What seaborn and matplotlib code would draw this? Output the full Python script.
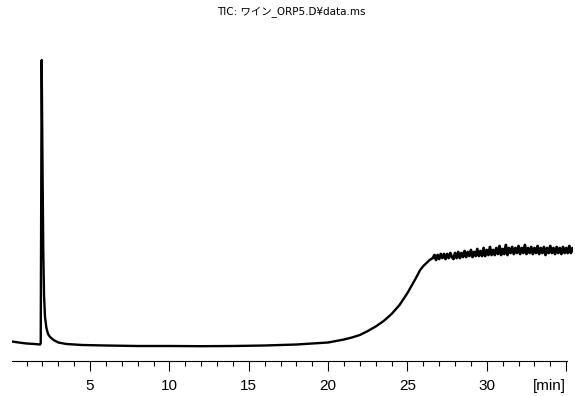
import numpy as np
import matplotlib
matplotlib.use('Agg')
import matplotlib.pyplot as plt
from matplotlib.ticker import MultipleLocator, FixedLocator, FixedFormatter
import seaborn as sns

# ── Data ───────────────────────────────────────────────────────────────────────
# retention time [min] and TIC abundance (arbitrary units)
times_main = [0.08, 0.5, 1.0, 1.5, 1.85, 1.89, 1.95, 2.0, 2.05, 2.1, 2.16, 2.25,
              2.35, 2.48, 2.7, 3.0, 3.5, 4.5, 6.0, 8.0, 10.0, 12.0, 14.0, 16.0,
              18.0, 19.5, 20.0, 20.5, 21.0, 21.5, 22.0, 22.5, 23.0, 23.5, 24.0,
              24.5, 25.0, 25.5, 25.8, 26.0, 26.2, 26.4, 26.5]
abund_main = [19.5, 18.5, 17.5, 17.0, 16.5, 18.0, 301.0, 200.0, 111.0, 65.0, 44.0,
              33.0, 27.0, 24.0, 21.0, 18.5, 17.0, 16.0, 15.5, 15.0, 15.0, 14.8,
              15.0, 15.5, 16.5, 18.0, 18.5, 20.0, 21.5, 23.5, 26.0, 30.0, 34.5,
              40.0, 47.0, 56.0, 68.0, 82.0, 91.0, 95.0, 98.0, 101.0, 102.0]

# plateau scans, 0.1 min apart, starting at 26.6 min
plateau_start = 26.6
plateau_abund = [103, 106, 101, 106, 102, 107, 103, 107, 102, 107,
                 103, 108, 104, 102, 108, 103, 109, 103, 108, 104,
                 110, 104, 109, 105, 111, 104, 109, 105, 112, 105,
                 110, 105, 113, 105, 111, 106, 114, 106, 111, 106,
                 113, 107, 115, 106, 112, 107, 116, 106, 113, 108,
                 114, 107, 113, 108, 115, 107, 113, 108, 116, 107,
                 113, 108, 114, 107, 113, 108, 115, 107, 113, 108,
                 114, 106, 113, 108, 115, 108, 113, 107, 114, 108,
                 113, 107, 114, 108, 113, 108, 115, 108, 113]

major_ticks = [5, 10, 15, 20, 25, 30, 35]
major_labels = ['5', '10', '15', '20', '25', '30', '[min]']
title = 'TIC: ワイン_ORP5.D¥data.ms'

plateau_times = [round(plateau_start + 0.1 * i, 2) for i in range(len(plateau_abund))]

# ── Plot ───────────────────────────────────────────────────────────────────────
sns.set_theme(style='white')
plt.rcParams['font.family'] = ['Liberation Sans', 'Noto Sans CJK JP', 'DejaVu Sans']

fig = plt.figure(figsize=(5.75, 3.96), dpi=100)
ax = fig.add_axes([12 / 575, 35 / 396, 560.5 / 575, 321 / 396])

sns.lineplot(x=times_main + plateau_times[:1], y=abund_main + plateau_abund[:1],
             color='black', linewidth=1.7, estimator=None, sort=False, ax=ax)
sns.lineplot(x=plateau_times, y=plateau_abund,
             color='black', linewidth=2.0, estimator=None, sort=False, ax=ax)

ax.set_xlim(0.08, 35.4)
ax.set_ylim(0, 321)
ax.set_xlabel('')
ax.set_ylabel('')
ax.set_yticks([])
for s in ['left', 'top', 'right']:
    ax.spines[s].set_visible(False)
ax.spines['bottom'].set_color('black')
ax.spines['bottom'].set_linewidth(0.8)
ax.spines['bottom'].set_bounds(0.08, 35.05)

ax.xaxis.set_major_locator(FixedLocator(major_ticks))
ax.xaxis.set_major_formatter(FixedFormatter(major_labels))
ax.xaxis.set_minor_locator(MultipleLocator(1))
ax.tick_params(axis='x', which='major', direction='out', length=7, width=0.8,
               color='black', labelcolor='black', labelsize=11, pad=6, bottom=True)
ax.tick_params(axis='x', which='minor', direction='out', length=3.5, width=0.8,
               color='black', bottom=True)
lbls = ax.get_xticklabels()
lbls[-1].set_horizontalalignment('right')
lbls[-1].set_x(35.1)

fig.text(0.506, 1 - 12 / 396, title, ha='center', va='center', fontsize=7.5,
         color='black', family=['DejaVu Sans', 'Noto Sans CJK JP'])

plt.savefig('out.png', dpi=100)
plt.close()
